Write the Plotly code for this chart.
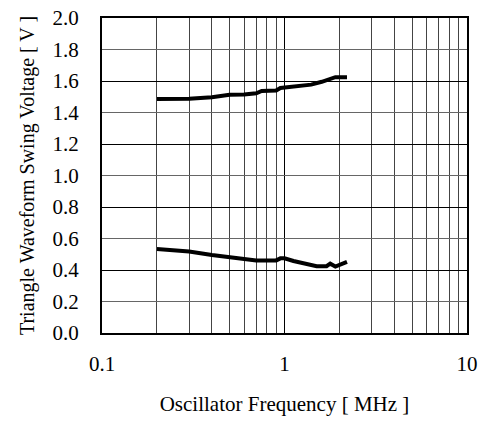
import plotly.graph_objects as go

# Data
upper_x = [0.2, 0.3, 0.4, 0.5, 0.6, 0.7, 0.75, 0.85, 0.9, 0.95, 1.05, 1.2, 1.4, 1.6, 1.8, 1.9, 2.2]
upper_y = [1.485, 1.487, 1.497, 1.512, 1.514, 1.522, 1.537, 1.538, 1.540, 1.556, 1.562, 1.572, 1.577, 1.595, 1.618, 1.624, 1.624]
lower_x = [0.2, 0.3, 0.4, 0.5, 0.6, 0.7, 0.8, 0.9, 0.95, 1.0, 1.12, 1.33, 1.5, 1.7, 1.78, 1.9, 2.2]
lower_y = [0.533, 0.518, 0.495, 0.480, 0.469, 0.461, 0.460, 0.461, 0.474, 0.474, 0.457, 0.437, 0.424, 0.424, 0.440, 0.422, 0.452]

y_ticks = [0.0, 0.2, 0.4, 0.6, 0.8, 1.0, 1.2, 1.4, 1.6, 1.8, 2.0]
y_tick_text = ["0.0", "0.2", "0.4", "0.6", "0.8", "1.0", "1.2", "1.4", "1.6", "1.8", "2.0"]
x_ticks = [0.1, 1, 10]
x_tick_text = ["0.1", "1", "10"]

FONT = "Liberation Serif, Times New Roman, serif"

fig = go.Figure()
fig.add_trace(go.Scatter(x=upper_x, y=upper_y, mode="lines",
                         line=dict(color="black", width=4), showlegend=False))
fig.add_trace(go.Scatter(x=lower_x, y=lower_y, mode="lines",
                         line=dict(color="black", width=4), showlegend=False))
# invisible trace for overlay axis with darker gridlines
fig.add_trace(go.Scatter(x=[1], y=[1], xaxis="x", yaxis="y2", mode="markers",
                         marker=dict(opacity=0), showlegend=False, hoverinfo="skip"))

fig.update_layout(
    width=488, height=421,
    margin=dict(l=102, r=21, t=18, b=88),
    plot_bgcolor="white", paper_bgcolor="white",
    font=dict(family=FONT, color="black", size=21),
    xaxis=dict(
        type="log", range=[-1, 1],
        tickvals=x_ticks, ticktext=x_tick_text,
        showgrid=True, gridcolor="black", gridwidth=1,
        minor=dict(showgrid=True, gridcolor="#444444", gridwidth=1,
                   tickvals=[0.2, 0.3, 0.4, 0.5, 0.6, 0.7, 0.8, 0.9,
                             2, 3, 4, 5, 6, 7, 8, 9]),
        showline=True, linecolor="black", linewidth=2, mirror=True,
        ticks="", ticklabelstandoff=11,
        title=dict(text="Oscillator Frequency [ MHz ]",
                   font=dict(family=FONT, size=21), standoff=21),
        tickfont=dict(family=FONT, size=21),
        zeroline=False, automargin=False,
    ),
    yaxis=dict(
        range=[0, 2.0],
        tickvals=y_ticks, ticktext=y_tick_text,
        showgrid=True, gridcolor="#666666", gridwidth=1,
        showline=True, linecolor="black", linewidth=2, mirror=True,
        ticks="", ticklabelstandoff=17,
        title=dict(text="Triangle Waveform Swing Voltage [ V ]",
                   font=dict(family=FONT, size=20), standoff=13),
        tickfont=dict(family=FONT, size=21),
        zeroline=False, automargin=False,
    ),
    yaxis2=dict(
        range=[0, 2.0], overlaying="y", side="left",
        tickvals=[0.4, 0.8, 1.2, 1.6], showticklabels=False,
        showgrid=True, gridcolor="black", gridwidth=1,
        zeroline=False, showline=False, automargin=False,
    ),
)

fig.write_html("out.html")
